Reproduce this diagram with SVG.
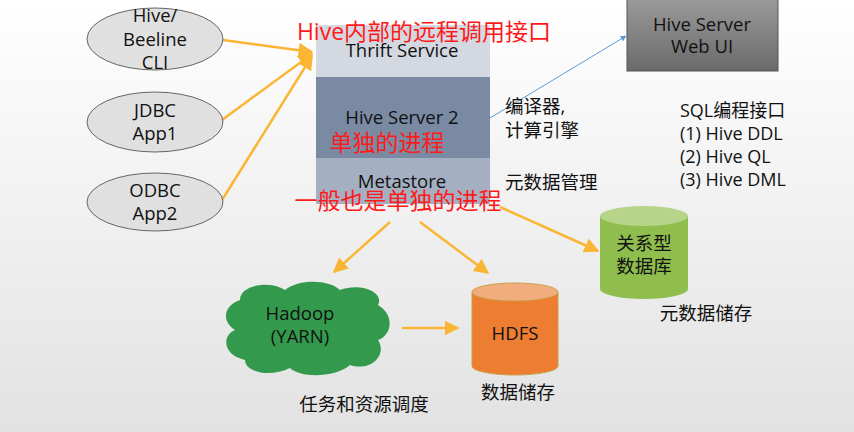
<svg xmlns="http://www.w3.org/2000/svg" width="854" height="432" viewBox="0 0 854 432">
<defs>
<linearGradient id="bg" x1="0" y1="0" x2="0" y2="1"><stop offset="0" stop-color="#ffffff"/><stop offset="1" stop-color="#e2e2e2"/></linearGradient>
<linearGradient id="gb" x1="0" y1="0" x2="0" y2="1"><stop offset="0" stop-color="#9a9a9a"/><stop offset="1" stop-color="#6a6a6a"/></linearGradient>
<marker id="ao" viewBox="0 0 10 10" refX="9" refY="5" markerWidth="6" markerHeight="6" orient="auto"><path d="M0,0L10,5L0,10z" fill="#fbb534"/></marker>
<marker id="ab" viewBox="0 0 10 10" refX="9" refY="5" markerWidth="6" markerHeight="6" orient="auto"><path d="M0,0L10,5L0,10z" fill="#5b9bd5"/></marker>
</defs>
<style>
text{font-family:"Open Sans","Noto Sans CJK SC",sans-serif;fill:#111;text-anchor:middle}
.el{fill:#e0e0e0;stroke:#666;stroke-width:1}
.t{font-size:18.5px}
.q{font-size:18px;text-anchor:start}
.s{text-anchor:start}
.r{fill:#ff1a1a;font-size:23px}
.o{stroke:#fbb534;stroke-width:2.5;fill:none;marker-end:url(#ao)}
</style>
<rect width="854" height="432" fill="url(#bg)"/>
<g id="connectors">
<line class="o" x1="223" y1="40" x2="312" y2="52"/>
<line class="o" x1="222" y1="120" x2="312" y2="54"/>
<line class="o" x1="222" y1="200" x2="312" y2="56"/>
<line x1="490" y1="118" x2="626" y2="36" stroke="#5b9bd5" stroke-width="1" marker-end="url(#ab)"/>
<line class="o" x1="390" y1="222" x2="334" y2="272"/>
<line class="o" x1="420" y1="222" x2="488" y2="273"/>
<line class="o" x1="500" y1="207" x2="598" y2="251"/>
<line class="o" x1="402" y1="328" x2="458" y2="328"/>
</g>
<g id="hive-cli"><ellipse class="el" cx="155" cy="39" rx="68" ry="31"/><text class="t" x="155" y="22">Hive/</text><text class="t" x="155" y="46">Beeline</text><text class="t" x="155" y="69">CLI</text></g>
<g id="jdbc"><ellipse class="el" cx="155" cy="122" rx="68" ry="30"/><text class="t" x="155" y="117">JDBC</text><text class="t" x="155" y="140">App1</text></g>
<g id="odbc"><ellipse class="el" cx="155" cy="202" rx="68" ry="29"/><text class="t" x="155" y="197">ODBC</text><text class="t" x="155" y="220">App2</text></g>
<g id="server">
<rect x="316" y="25" width="174" height="52" fill="#d4d8e1"/>
<rect x="316" y="77" width="174" height="81" fill="#7a8aa3"/>
<rect x="316" y="158" width="174" height="46" fill="#a5afc2"/>
<text class="t" x="402" y="57">Thrift Service</text>
<text class="t" x="402" y="124">Hive Server 2</text>
<text class="t" x="402" y="188">Metastore</text>
</g>
<g id="webui"><rect x="627" y="-1" width="151" height="72" fill="url(#gb)" stroke="#555"/><text class="t" x="702" y="31">Hive Server</text><text class="t" x="702" y="53">Web UI</text></g>
<text class="t s" x="505" y="113">编译器,</text>
<text class="t s" x="505" y="137">计算引擎</text>
<text class="t s" x="505" y="189">元数据管理</text>
<text class="q" x="680" y="117">SQL编程接口</text>
<text class="q" x="680" y="140">(1) Hive DDL</text>
<text class="q" x="680" y="163">(2) Hive QL</text>
<text class="q" x="680" y="186">(3) Hive DML</text>
<g id="rdb"><path d="M600,216 v73 a44,10 0 0 0 88,0 v-73" fill="#8fbd4e"/><ellipse cx="644" cy="216" rx="44" ry="10" fill="#b6d58a"/><text class="t" x="644" y="250">关系型</text><text class="t" x="644" y="273">数据库</text></g>
<text class="t" x="706" y="320">元数据储存</text>
<g id="hdfs"><path d="M472,292 v74 a43,9 0 0 0 86,0 v-74" fill="#ed7d31" stroke="#c9a04a"/><ellipse cx="515" cy="292" rx="43" ry="9" fill="#f1ad7e" stroke="#c9a04a"/><text class="t" x="515" y="340">HDFS</text></g>
<text class="t" x="518" y="399">数据储存</text>
<g id="hadoop"><path d="M240,300 C240,285 270,280 285,290 C300,278 330,280 340,290 C360,282 385,292 378,305 C395,315 392,335 378,340 C388,355 370,372 350,365 C335,378 300,378 290,368 C270,378 245,372 245,360 C222,355 222,335 235,330 C220,320 225,305 240,300 Z" fill="#339a4d"/><text class="t" x="300" y="320">Hadoop</text><text class="t" x="300" y="343">(YARN)</text></g>
<text class="t" x="364" y="411">任务和资源调度</text>
<text class="r" x="424" y="40">Hive内部的远程调用接口</text>
<text class="r" x="387" y="151">单独的进程</text>
<text class="r" x="398" y="209">一般也是单独的进程</text>
</svg>
